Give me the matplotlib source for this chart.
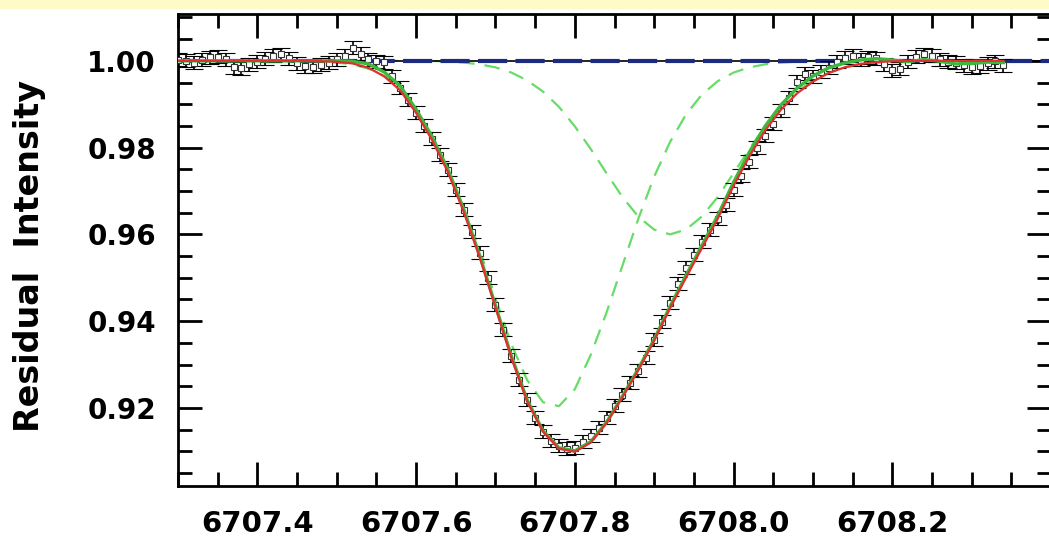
import matplotlib
matplotlib.use('Agg')
import matplotlib.pyplot as plt
from matplotlib.patches import Rectangle
from matplotlib.ticker import MultipleLocator, FixedLocator, FormatStrFormatter

plt.rcParams['font.family'] = 'DejaVu Sans'
plt.rcParams['font.weight'] = 'bold'

# observed spectrum around the Li I 6708 line
wave = [
    6707.30, 6707.31, 6707.32, 6707.33, 6707.34, 6707.35, 6707.36, 6707.37, 6707.38, 6707.39,
    6707.40, 6707.41, 6707.42, 6707.43, 6707.44, 6707.45, 6707.46, 6707.47, 6707.48, 6707.49,
    6707.50, 6707.51, 6707.52, 6707.53, 6707.54, 6707.55, 6707.56, 6707.57, 6707.58, 6707.59,
    6707.60, 6707.61, 6707.62, 6707.63, 6707.64, 6707.65, 6707.66, 6707.67, 6707.68, 6707.69,
    6707.70, 6707.71, 6707.72, 6707.73, 6707.74, 6707.75, 6707.76, 6707.77, 6707.78, 6707.79,
    6707.80, 6707.81, 6707.82, 6707.83, 6707.84, 6707.85, 6707.86, 6707.87, 6707.88, 6707.89,
    6707.90, 6707.91, 6707.92, 6707.93, 6707.94, 6707.95, 6707.96, 6707.97, 6707.98, 6707.99,
    6708.00, 6708.01, 6708.02, 6708.03, 6708.04, 6708.05, 6708.06, 6708.07, 6708.08, 6708.09,
    6708.10, 6708.11, 6708.12, 6708.13, 6708.14, 6708.15, 6708.16, 6708.17, 6708.18, 6708.19,
    6708.20, 6708.21, 6708.22, 6708.23, 6708.24, 6708.25, 6708.26, 6708.27, 6708.28, 6708.29,
    6708.30, 6708.31, 6708.32, 6708.33, 6708.34,
]
flux = [
    1.0002, 1.0000, 0.9996, 1.0003, 1.0008, 1.0010, 1.0004, 0.9985, 0.9983, 0.9992,
    0.9998, 1.0005, 1.0012, 1.0015, 1.0006, 0.9995, 0.9988, 0.9986, 0.9991, 0.9996,
    1.0004, 1.0012, 1.0030, 1.0016, 1.0004, 0.9999, 0.9997, 0.9965, 0.9938, 0.9910,
    0.9880, 0.9850, 0.9820, 0.9783, 0.9749, 0.9703, 0.9657, 0.9606, 0.9558, 0.9500,
    0.9438, 0.9380, 0.9320, 0.9265, 0.9219, 0.9177, 0.9145, 0.9124, 0.9113, 0.9106,
    0.9108, 0.9122, 0.9136, 0.9154, 0.9177, 0.9205, 0.9230, 0.9258, 0.9286, 0.9316,
    0.9357, 0.9399, 0.9442, 0.9486, 0.9523, 0.9553, 0.9583, 0.9611, 0.9636, 0.9668,
    0.9703, 0.9735, 0.9767, 0.9800, 0.9827, 0.9855, 0.9885, 0.9915, 0.9952, 0.9970,
    0.9965, 0.9975, 0.9984, 0.9998, 1.0007, 1.0012, 1.0002, 1.0008, 1.0006, 0.9992,
    0.9978, 0.9982, 0.9998, 1.0010, 1.0015, 1.0012, 1.0004, 0.9998, 0.9996, 0.9990,
    0.9985, 0.9987, 0.9995, 0.9999, 0.9990,
]
flux_err = 0.0015

# model curves on a coarser grid
model_wave = [
    6707.30, 6707.32, 6707.34, 6707.36, 6707.38, 6707.40, 6707.42, 6707.44, 6707.46, 6707.48,
    6707.50, 6707.52, 6707.54, 6707.56, 6707.58, 6707.60, 6707.62, 6707.64, 6707.66, 6707.68,
    6707.70, 6707.72, 6707.74, 6707.76, 6707.78, 6707.80, 6707.82, 6707.84, 6707.86, 6707.88,
    6707.90, 6707.92, 6707.94, 6707.96, 6707.98, 6708.00, 6708.02, 6708.04, 6708.06, 6708.08,
    6708.10, 6708.12, 6708.14, 6708.16, 6708.18, 6708.20, 6708.22, 6708.24, 6708.26, 6708.28,
    6708.30, 6708.32, 6708.34,
]
fit_total = [
    1.0000, 1.0000, 1.0000, 1.0000, 1.0000, 1.0000, 1.0000, 1.0000, 1.0000, 0.9999,
    0.9998, 0.9994, 0.9984, 0.9964, 0.9932, 0.9880, 0.9818, 0.9744, 0.9652, 0.9548,
    0.9432, 0.9316, 0.9215, 0.9145, 0.9106, 0.9099, 0.9120, 0.9165, 0.9225, 0.9287,
    0.9355, 0.9430, 0.9500, 0.9568, 0.9636, 0.9712, 0.9780, 0.9840, 0.9888, 0.9925,
    0.9952, 0.9972, 0.9985, 0.9993, 0.9997, 0.9999, 1.0000, 1.0000, 1.0000, 1.0000,
    1.0000, 1.0000, 1.0000,
]
fit_smooth = [
    1.0000, 1.0000, 1.0000, 1.0000, 1.0000, 1.0000, 1.0000, 1.0000, 1.0000, 1.0000,
    1.0000, 0.9999, 0.9993, 0.9974, 0.9942, 0.9888, 0.9826, 0.9750, 0.9658, 0.9552,
    0.9436, 0.9320, 0.9218, 0.9147, 0.9108, 0.9101, 0.9122, 0.9167, 0.9227, 0.9290,
    0.9358, 0.9434, 0.9505, 0.9574, 0.9643, 0.9720, 0.9790, 0.9850, 0.9899, 0.9937,
    0.9965, 0.9984, 0.9995, 1.0002, 1.0005, 1.0002, 0.9998, 1.0003, 0.9999, 0.9993,
    0.9994, 0.9997, 0.9996,
]
comp_li7 = [
    1.0000, 1.0000, 1.0000, 1.0000, 1.0000, 1.0000, 1.0000, 1.0000, 1.0000, 0.9998,
    0.9996, 0.9992, 0.9982, 0.9965, 0.9938, 0.9880, 0.9821, 0.9751, 0.9661, 0.9566,
    0.9453, 0.9347, 0.9264, 0.9213, 0.9204, 0.9243, 0.9322, 0.9420, 0.9528, 0.9636,
    0.9733, 0.9813, 0.9876, 0.9922, 0.9953, 0.9973, 0.9985, 0.9992, 0.9996, 0.9998,
    1.0000, 1.0000, 1.0000, 1.0000, 1.0000, 1.0000, 1.0000, 1.0000, 1.0000, 1.0000,
    1.0000, 1.0000, 1.0000,
]
comp_li6 = [
    1.0000, 1.0000, 1.0000, 1.0000, 1.0000, 1.0000, 1.0000, 1.0000, 1.0000, 1.0000,
    1.0000, 1.0000, 1.0000, 1.0000, 1.0000, 1.0000, 1.0000, 0.9998, 0.9996, 0.9992,
    0.9985, 0.9973, 0.9955, 0.9929, 0.9894, 0.9849, 0.9797, 0.9741, 0.9686, 0.9641,
    0.9611, 0.9600, 0.9611, 0.9641, 0.9686, 0.9741, 0.9797, 0.9849, 0.9894, 0.9929,
    0.9955, 0.9973, 0.9985, 0.9992, 0.9996, 0.9998, 1.0000, 1.0000, 1.0000, 1.0000,
    1.0000, 1.0000, 1.0000,
]
continuum = 1.0

xtick_vals = [6707.4, 6707.6, 6707.8, 6708.0, 6708.2]

fig = plt.figure(figsize=(10.49, 5.38), dpi=100)
fig.add_artist(Rectangle((0, 1 - 9 / 538), 1, 9 / 538, transform=fig.transFigure,
                         facecolor='#fffbc8', edgecolor='none'))

ax = fig.add_axes([178 / 1049, 52 / 538, 873 / 1049, 472 / 538])

ax.plot(model_wave, comp_li7, color='#66dd66', lw=1.6, dashes=(7, 4.5), zorder=1.5)
ax.plot(model_wave, comp_li6, color='#66dd66', lw=1.6, dashes=(7, 4.5), zorder=1.5)
ax.axhline(continuum, color='black', lw=1.2, zorder=2)
ax.axhline(continuum, color='#1c2a80', lw=3, dashes=(7, 2), zorder=2.1)

ax.errorbar(wave, flux, yerr=flux_err, fmt='s', ms=4, mfc='white', mec='#333333', mew=0.8,
            ecolor='black', elinewidth=1.2, capsize=6.5, capthick=1.3, zorder=3)

ax.plot(model_wave, fit_smooth, color='#3cb83c', lw=2.4, zorder=3.5)
ax.plot(model_wave, fit_total, color='#e03030', lw=1.6, zorder=4)

ax.set_xlim(6707.30, 6708.40)
ax.set_ylim(0.9020, 1.0108)

ax.xaxis.set_major_locator(FixedLocator(xtick_vals))
ax.xaxis.set_minor_locator(MultipleLocator(0.05))
ax.xaxis.set_major_formatter(FormatStrFormatter('%.1f'))
ax.yaxis.set_major_locator(MultipleLocator(0.02))
ax.yaxis.set_minor_locator(MultipleLocator(0.005))
ax.yaxis.set_major_formatter(FormatStrFormatter('%.2f'))

ax.tick_params(which='both', direction='in', top=True, right=True, width=2)
ax.tick_params(which='major', length=17)
ax.tick_params(which='minor', length=10)
ax.tick_params(axis='x', labelsize=21, pad=17)
ax.tick_params(axis='y', labelsize=20, pad=16)
for spine in ax.spines.values():
    spine.set_linewidth(2)

fig.text(30 / 1049, 1 - 256 / 538, 'Residual  Intensity', rotation=90,
         ha='center', va='center', fontsize=24, fontweight='bold')

fig.savefig('out.png', dpi=100)
